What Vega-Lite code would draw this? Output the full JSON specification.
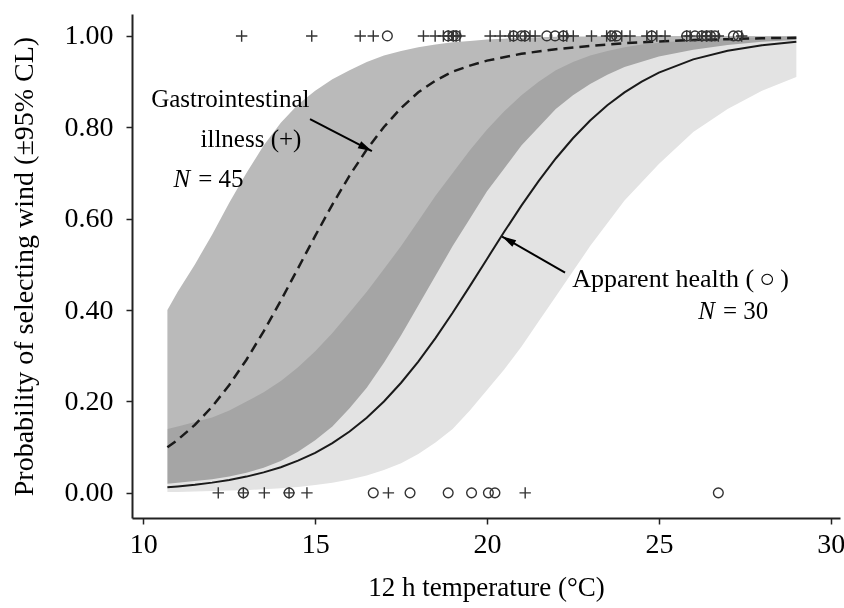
{
  "$schema": "https://vega.github.io/schema/vega-lite/v6.json",
  "width": 708,
  "height": 504,
  "autosize": "none",
  "padding": {"left": 132, "top": 14, "right": 4, "bottom": 90},
  "background": "white",
  "config": {
    "view": {"stroke": null},
    "font": "Liberation Serif",
    "axis": {
      "labelFont": "Liberation Serif",
      "titleFont": "Liberation Serif",
      "labelFontSize": 28,
      "titleFontSize": 28,
      "titleFontWeight": "normal",
      "labelColor": "black",
      "titleColor": "black",
      "domainColor": "#222",
      "domainWidth": 2,
      "tickColor": "#222",
      "tickWidth": 1.5,
      "tickSize": 6,
      "grid": false
    }
  },
  "datasets": {
    "pts": [
      {"t": 12.18, "p": 0, "g": "ill"}, {"t": 12.91, "p": 0, "g": "ill"}, {"t": 13.52, "p": 0, "g": "ill"}, {"t": 14.24, "p": 0, "g": "ill"}, {"t": 14.76, "p": 0, "g": "ill"}, {"t": 17.13, "p": 0, "g": "ill"}, {"t": 21.11, "p": 0, "g": "ill"},
      {"t": 12.86, "p": 1, "g": "ill"}, {"t": 14.9, "p": 1, "g": "ill"}, {"t": 16.31, "p": 1, "g": "ill"}, {"t": 16.69, "p": 1, "g": "ill"}, {"t": 18.15, "p": 1, "g": "ill"}, {"t": 18.49, "p": 1, "g": "ill"}, {"t": 18.73, "p": 1, "g": "ill"}, {"t": 18.87, "p": 1, "g": "ill"}, {"t": 19.02, "p": 1, "g": "ill"}, {"t": 19.1, "p": 1, "g": "ill"}, {"t": 19.21, "p": 1, "g": "ill"}, {"t": 20.09, "p": 1, "g": "ill"}, {"t": 20.38, "p": 1, "g": "ill"}, {"t": 20.67, "p": 1, "g": "ill"}, {"t": 20.77, "p": 1, "g": "ill"}, {"t": 21.1, "p": 1, "g": "ill"}, {"t": 21.25, "p": 1, "g": "ill"}, {"t": 21.4, "p": 1, "g": "ill"}, {"t": 22.22, "p": 1, "g": "ill"}, {"t": 22.32, "p": 1, "g": "ill"}, {"t": 22.51, "p": 1, "g": "ill"}, {"t": 23.04, "p": 1, "g": "ill"}, {"t": 23.48, "p": 1, "g": "ill"}, {"t": 23.58, "p": 1, "g": "ill"}, {"t": 23.72, "p": 1, "g": "ill"}, {"t": 23.92, "p": 1, "g": "ill"}, {"t": 24.16, "p": 1, "g": "ill"}, {"t": 24.65, "p": 1, "g": "ill"}, {"t": 24.79, "p": 1, "g": "ill"}, {"t": 24.94, "p": 1, "g": "ill"}, {"t": 25.18, "p": 1, "g": "ill"}, {"t": 25.81, "p": 1, "g": "ill"}, {"t": 25.91, "p": 1, "g": "ill"}, {"t": 26.25, "p": 1, "g": "ill"}, {"t": 26.39, "p": 1, "g": "ill"}, {"t": 26.54, "p": 1, "g": "ill"}, {"t": 26.73, "p": 1, "g": "ill"}, {"t": 27.41, "p": 1, "g": "ill"},
      {"t": 12.91, "p": 0, "g": "ok"}, {"t": 14.24, "p": 0, "g": "ok"}, {"t": 16.69, "p": 0, "g": "ok"}, {"t": 17.76, "p": 0, "g": "ok"}, {"t": 18.87, "p": 0, "g": "ok"}, {"t": 19.55, "p": 0, "g": "ok"}, {"t": 20.04, "p": 0, "g": "ok"}, {"t": 20.23, "p": 0, "g": "ok"}, {"t": 26.73, "p": 0, "g": "ok"},
      {"t": 17.1, "p": 1, "g": "ok"}, {"t": 18.87, "p": 1, "g": "ok"}, {"t": 19.02, "p": 1, "g": "ok"}, {"t": 19.1, "p": 1, "g": "ok"}, {"t": 20.77, "p": 1, "g": "ok"}, {"t": 21.0, "p": 1, "g": "ok"}, {"t": 21.1, "p": 1, "g": "ok"}, {"t": 21.74, "p": 1, "g": "ok"}, {"t": 21.98, "p": 1, "g": "ok"}, {"t": 22.22, "p": 1, "g": "ok"}, {"t": 23.63, "p": 1, "g": "ok"}, {"t": 23.77, "p": 1, "g": "ok"}, {"t": 24.79, "p": 1, "g": "ok"}, {"t": 25.81, "p": 1, "g": "ok"}, {"t": 26.05, "p": 1, "g": "ok"}, {"t": 26.25, "p": 1, "g": "ok"}, {"t": 26.39, "p": 1, "g": "ok"}, {"t": 26.5, "p": 1, "g": "ok"}, {"t": 26.63, "p": 1, "g": "ok"}, {"t": 27.17, "p": 1, "g": "ok"}, {"t": 27.31, "p": 1, "g": "ok"}
    ],
    "illLine": [
      {"t": 10.7, "p": 0.0998}, {"t": 11, "p": 0.1162}, {"t": 11.5, "p": 0.1488}, {"t": 12, "p": 0.1886}, {"t": 12.5, "p": 0.2361}, {"t": 13, "p": 0.2913}, {"t": 13.5, "p": 0.3535}, {"t": 14, "p": 0.4209}, {"t": 14.5, "p": 0.4914}, {"t": 15, "p": 0.5624}, {"t": 15.5, "p": 0.6309}, {"t": 16, "p": 0.6944}, {"t": 16.5, "p": 0.7514}, {"t": 17, "p": 0.8007}, {"t": 17.5, "p": 0.8424}, {"t": 18, "p": 0.8767}, {"t": 18.5, "p": 0.9023}, {"t": 19, "p": 0.922}, {"t": 19.5, "p": 0.935}, {"t": 20, "p": 0.946}, {"t": 21, "p": 0.961}, {"t": 22, "p": 0.971}, {"t": 23, "p": 0.978}, {"t": 24, "p": 0.984}, {"t": 25, "p": 0.988}, {"t": 26, "p": 0.991}, {"t": 27, "p": 0.993}, {"t": 28, "p": 0.995}, {"t": 29, "p": 0.996}
    ],
    "okLine": [
      {"t": 10.7, "p": 0.0121}, {"t": 11, "p": 0.014}, {"t": 11.5, "p": 0.0177}, {"t": 12, "p": 0.0224}, {"t": 12.5, "p": 0.0283}, {"t": 13, "p": 0.0356}, {"t": 13.5, "p": 0.0448}, {"t": 14, "p": 0.0562}, {"t": 14.5, "p": 0.0704}, {"t": 15, "p": 0.0877}, {"t": 15.5, "p": 0.1088}, {"t": 16, "p": 0.1342}, {"t": 16.5, "p": 0.1645}, {"t": 17, "p": 0.2}, {"t": 17.5, "p": 0.241}, {"t": 18, "p": 0.2874}, {"t": 18.5, "p": 0.3387}, {"t": 19, "p": 0.3941}, {"t": 19.5, "p": 0.4524}, {"t": 20, "p": 0.512}, {"t": 20.5, "p": 0.5713}, {"t": 21, "p": 0.6285}, {"t": 21.5, "p": 0.6824}, {"t": 22, "p": 0.7318}, {"t": 22.5, "p": 0.7761}, {"t": 23, "p": 0.8149}, {"t": 23.5, "p": 0.8483}, {"t": 24, "p": 0.8765}, {"t": 24.5, "p": 0.9001}, {"t": 25, "p": 0.9197}, {"t": 26, "p": 0.9487}, {"t": 27, "p": 0.9675}, {"t": 28, "p": 0.9796}, {"t": 29, "p": 0.9873}
    ],
    "illBand": [
      {"t": 10.7, "lo": 0.02, "hi": 0.4}, {"t": 11, "lo": 0.022, "hi": 0.44}, {"t": 11.5, "lo": 0.026, "hi": 0.5}, {"t": 12, "lo": 0.03, "hi": 0.565}, {"t": 12.5, "lo": 0.036, "hi": 0.635}, {"t": 13, "lo": 0.044, "hi": 0.7}, {"t": 13.5, "lo": 0.055, "hi": 0.76}, {"t": 14, "lo": 0.07, "hi": 0.81}, {"t": 14.5, "lo": 0.09, "hi": 0.85}, {"t": 15, "lo": 0.115, "hi": 0.88}, {"t": 15.5, "lo": 0.145, "hi": 0.905}, {"t": 16, "lo": 0.185, "hi": 0.925}, {"t": 16.5, "lo": 0.23, "hi": 0.943}, {"t": 17, "lo": 0.285, "hi": 0.957}, {"t": 17.5, "lo": 0.345, "hi": 0.967}, {"t": 18, "lo": 0.41, "hi": 0.975}, {"t": 18.5, "lo": 0.475, "hi": 0.981}, {"t": 19, "lo": 0.54, "hi": 0.986}, {"t": 19.5, "lo": 0.6, "hi": 0.989}, {"t": 20, "lo": 0.66, "hi": 0.992}, {"t": 20.5, "lo": 0.71, "hi": 0.994}, {"t": 21, "lo": 0.76, "hi": 0.996}, {"t": 21.5, "lo": 0.8, "hi": 0.997}, {"t": 22, "lo": 0.84, "hi": 0.998}, {"t": 22.5, "lo": 0.87, "hi": 0.999}, {"t": 23, "lo": 0.895, "hi": 0.999}, {"t": 23.5, "lo": 0.915, "hi": 1.0}, {"t": 24, "lo": 0.932, "hi": 1.0}, {"t": 25, "lo": 0.955, "hi": 1.0}, {"t": 26, "lo": 0.97, "hi": 1.0}, {"t": 27, "lo": 0.98, "hi": 1.0}, {"t": 28, "lo": 0.987, "hi": 1.0}, {"t": 29, "lo": 0.991, "hi": 1.0}
    ],
    "okBand": [
      {"t": 10.7, "lo": 0.002, "hi": 0.14}, {"t": 11, "lo": 0.002, "hi": 0.145}, {"t": 11.5, "lo": 0.003, "hi": 0.155}, {"t": 12, "lo": 0.004, "hi": 0.165}, {"t": 12.5, "lo": 0.005, "hi": 0.18}, {"t": 13, "lo": 0.006, "hi": 0.2}, {"t": 13.5, "lo": 0.008, "hi": 0.22}, {"t": 14, "lo": 0.01, "hi": 0.245}, {"t": 14.5, "lo": 0.013, "hi": 0.275}, {"t": 15, "lo": 0.017, "hi": 0.31}, {"t": 15.5, "lo": 0.022, "hi": 0.35}, {"t": 16, "lo": 0.029, "hi": 0.395}, {"t": 16.5, "lo": 0.038, "hi": 0.44}, {"t": 17, "lo": 0.05, "hi": 0.49}, {"t": 17.5, "lo": 0.065, "hi": 0.54}, {"t": 18, "lo": 0.085, "hi": 0.595}, {"t": 18.5, "lo": 0.11, "hi": 0.65}, {"t": 19, "lo": 0.14, "hi": 0.7}, {"t": 19.5, "lo": 0.18, "hi": 0.75}, {"t": 20, "lo": 0.225, "hi": 0.795}, {"t": 20.5, "lo": 0.27, "hi": 0.835}, {"t": 21, "lo": 0.32, "hi": 0.87}, {"t": 21.5, "lo": 0.375, "hi": 0.9}, {"t": 22, "lo": 0.43, "hi": 0.925}, {"t": 22.5, "lo": 0.485, "hi": 0.943}, {"t": 23, "lo": 0.54, "hi": 0.957}, {"t": 23.5, "lo": 0.59, "hi": 0.967}, {"t": 24, "lo": 0.64, "hi": 0.975}, {"t": 24.5, "lo": 0.68, "hi": 0.981}, {"t": 25, "lo": 0.72, "hi": 0.985}, {"t": 26, "lo": 0.79, "hi": 0.991}, {"t": 27, "lo": 0.84, "hi": 0.995}, {"t": 28, "lo": 0.88, "hi": 0.997}, {"t": 29, "lo": 0.91, "hi": 0.998}
    ],
    "labels": [
      {"t": 12.53, "p": 0.862, "txt": "Gastrointestinal"}
    ],
    "labelsR": [
      {"t": 14.6, "p": 0.774, "txt": "illness (+)"}
    ],
    "labelsL": [
      {"t": 22.36, "p": 0.467, "txt": "Apparent health (\u2009\u25cb\u2009)"}
    ],
    "nLabels": [
      {"t": 11.45, "p": 0.686, "txt": "= 45"},
      {"t": 26.72, "p": 0.397, "txt": "= 30"}
    ],
    "arrows": [
      {"t": 14.85, "p": 0.818, "t2": 16.65, "p2": 0.748},
      {"t": 22.27, "p": 0.482, "t2": 20.44, "p2": 0.561}
    ]
  },
  "encoding": {
    "x": {"field": "t", "type": "quantitative", "scale": {"domain": [9.67, 30.27], "nice": false, "zero": false},
      "axis": {"values": [10, 15, 20, 25, 30], "title": "12 h temperature (\u00b0C)", "labelPadding": 6, "titlePadding": 16, "titleFontSize": 27}},
    "y": {"field": "p", "type": "quantitative", "scale": {"domain": [-0.055, 1.048], "nice": false, "zero": false},
      "axis": {"values": [0, 0.2, 0.4, 0.6, 0.8, 1.0], "format": ".2f", "title": "Probability of selecting wind (\u00b195% CL)", "labelPadding": 13, "titlePadding": 26}}
  },
  "layer": [
    {
      "data": {"name": "okBand"},
      "mark": {"type": "area", "color": "#e3e3e3"},
      "encoding": {"y": {"field": "lo", "type": "quantitative"}, "y2": {"field": "hi"}}
    },
    {
      "data": {"name": "illBand"},
      "mark": {"type": "area", "color": "#bababa", "blend": "multiply"},
      "encoding": {"y": {"field": "lo", "type": "quantitative"}, "y2": {"field": "hi"}}
    },
    {
      "data": {"name": "illLine"},
      "mark": {"type": "line", "color": "#1a1a1a", "strokeWidth": 2.5, "strokeDash": [10, 6]},
      "encoding": {}
    },
    {
      "data": {"name": "okLine"},
      "mark": {"type": "line", "color": "#1a1a1a", "strokeWidth": 2},
      "encoding": {}
    },
    {
      "data": {"name": "pts"},
      "transform": [{"filter": "datum.g === 'ill'"}],
      "mark": {"type": "point", "shape": "M-1,0L1,0M0,-1L0,1", "filled": false, "size": 130, "color": "#333", "strokeWidth": 1.4, "opacity": 1}
    },
    {
      "data": {"name": "pts"},
      "transform": [{"filter": "datum.g === 'ok'"}],
      "mark": {"type": "point", "shape": "circle", "filled": false, "size": 95, "color": "#333", "strokeWidth": 1.4, "opacity": 1}
    },
    {
      "data": {"name": "labels"},
      "mark": {"type": "text", "font": "Liberation Serif", "fontSize": 25, "color": "black", "align": "center", "baseline": "middle"},
      "encoding": {"text": {"field": "txt"}}
    },
    {
      "data": {"name": "labelsR"},
      "mark": {"type": "text", "font": "Liberation Serif", "fontSize": 25, "color": "black", "align": "right", "baseline": "middle"},
      "encoding": {"text": {"field": "txt"}}
    },
    {
      "data": {"name": "labelsL"},
      "mark": {"type": "text", "font": "Liberation Serif", "fontSize": 26, "color": "black", "align": "left", "baseline": "middle", "dx": 4},
      "encoding": {"text": {"field": "txt"}}
    },
    {
      "data": {"name": "nLabels"},
      "mark": {"type": "text", "font": "Liberation Serif", "fontSize": 25, "fontStyle": "italic", "color": "black", "align": "right", "baseline": "middle", "dx": -3},
      "encoding": {"text": {"value": "N"}}
    },
    {
      "data": {"name": "nLabels"},
      "mark": {"type": "text", "font": "Liberation Serif", "fontSize": 25, "color": "black", "align": "left", "baseline": "middle", "dx": 5},
      "encoding": {"text": {"field": "txt"}}
    },
    {
      "data": {"name": "arrows"},
      "mark": {"type": "rule", "color": "black", "strokeWidth": 2},
      "encoding": {"x2": {"field": "t2"}, "y2": {"field": "p2"}}
    },
    {
      "data": {"name": "arrows"},
      "transform": [{"filter": "datum.t < datum.t2"}],
      "mark": {"type": "point", "shape": "M0,0L0.55,2L-0.55,2Z", "filled": true, "color": "black", "size": 196, "angle": 117, "opacity": 1},
      "encoding": {"x": {"field": "t2", "type": "quantitative"}, "y": {"field": "p2", "type": "quantitative"}}
    },
    {
      "data": {"name": "arrows"},
      "transform": [{"filter": "datum.t > datum.t2"}],
      "mark": {"type": "point", "shape": "M0,0L0.55,2L-0.55,2Z", "filled": true, "color": "black", "size": 196, "angle": 300, "opacity": 1},
      "encoding": {"x": {"field": "t2", "type": "quantitative"}, "y": {"field": "p2", "type": "quantitative"}}
    }
  ]
}
